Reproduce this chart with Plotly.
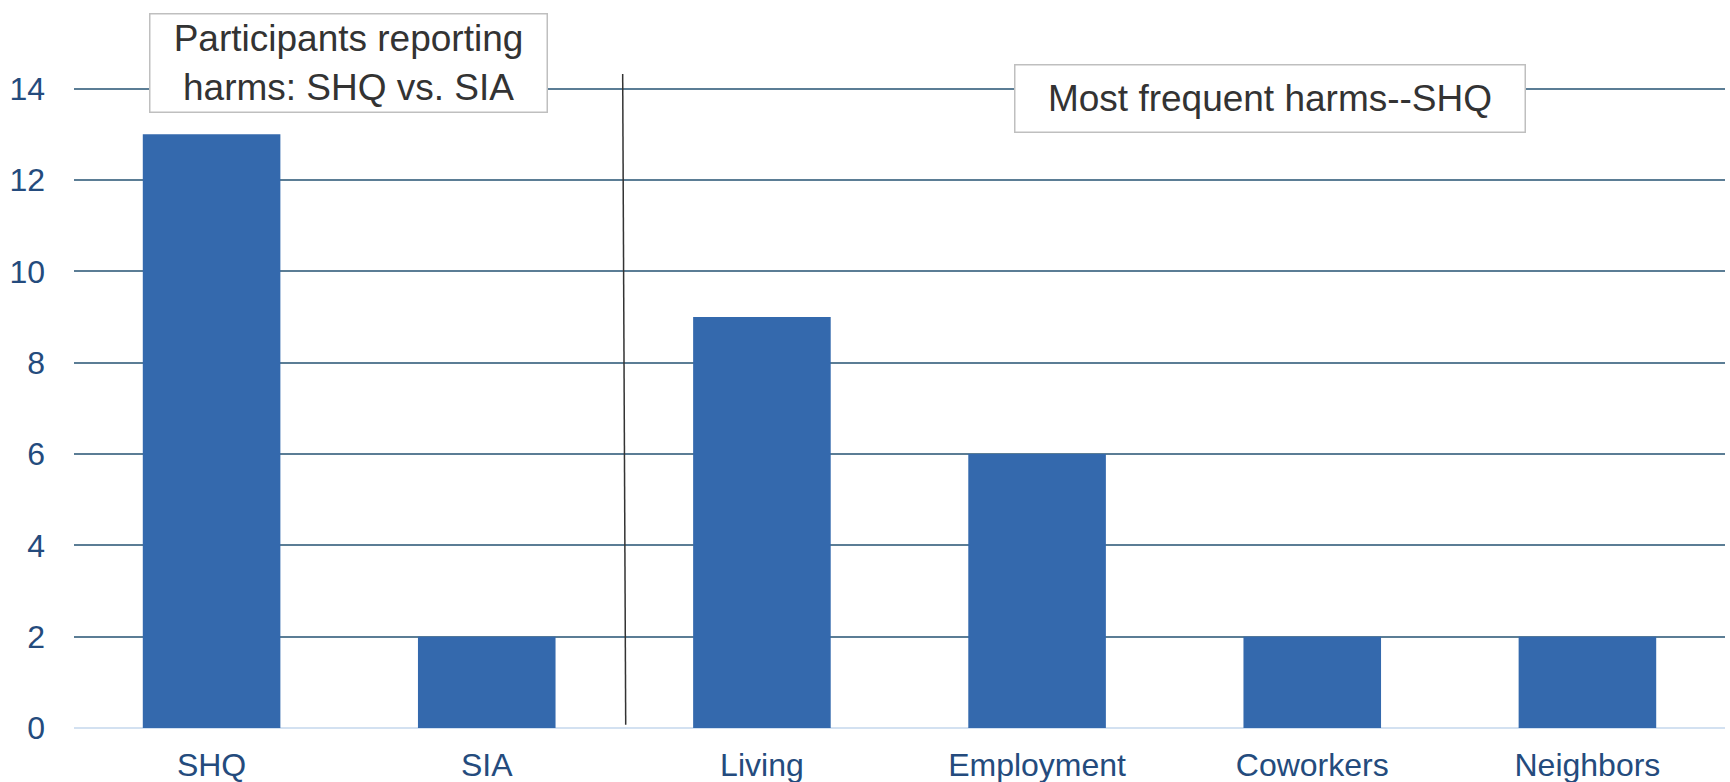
import plotly.graph_objects as go

categories = ["SHQ", "SIA", "Living", "Employment", "Coworkers", "Neighbors"]
values = [13, 2, 9, 6, 2, 2]
y_ticks = [0, 2, 4, 6, 8, 10, 12, 14]
box1_text = "Participants reporting<br>harms: SHQ vs. SIA"
box2_text = "Most frequent harms--SHQ"

FONT = "Liberation Sans, Arial, sans-serif"
TICK_COLOR = "#244b7d"

fig = go.Figure()
fig.add_trace(go.Bar(
    x=categories, y=values,
    marker=dict(color="#3469ad", line=dict(width=0)),
    width=0.5,
    hoverinfo="x+y",
))

fig.update_layout(
    width=1730, height=782,
    margin=dict(l=74, r=5, t=43, b=54, autoexpand=False),
    paper_bgcolor="white", plot_bgcolor="white",
    showlegend=False,
    font=dict(family=FONT, size=32, color=TICK_COLOR),
    xaxis=dict(
        type="category", showgrid=False, showline=False, ticks="",
        automargin=False,
        tickfont=dict(size=32, color=TICK_COLOR), ticklabelstandoff=15,
    ),
    yaxis=dict(
        range=[0, 15], tickvals=y_ticks, showgrid=True,
        gridcolor="#5b7d95", gridwidth=1.5,
        zeroline=True, zerolinecolor="#d3e1f1", zerolinewidth=2,
        showline=False, ticks="", automargin=False,
        tickfont=dict(size=32, color=TICK_COLOR), ticklabelstandoff=28,
    ),
    shapes=[dict(
        type="line", xref="x", yref="y",
        x0=1.494, y0=14.32, x1=1.505, y1=0.07,
        line=dict(color="#333333", width=1.5), layer="above",
    )],
    annotations=[
        dict(text=box1_text, xref="paper", yref="paper", x=0.1663, y=0.9708,
             xanchor="center", yanchor="middle", showarrow=False,
             font=dict(family=FONT, size=37, color="#333333"),
             bgcolor="white", bordercolor="#bfbfbf", borderwidth=1.5,
             borderpad=0, width=396, height=97, align="center"),
        dict(text=box2_text, xref="paper", yref="paper", x=0.7244, y=0.919,
             xanchor="center", yanchor="middle", showarrow=False,
             font=dict(family=FONT, size=37, color="#333333"),
             bgcolor="white", bordercolor="#bfbfbf", borderwidth=1.5,
             borderpad=0, width=509, height=66, align="center"),
    ],
)

fig.write_html("out.html", config={"displayModeBar": False},
               post_script="document.body.style.margin='0';")
